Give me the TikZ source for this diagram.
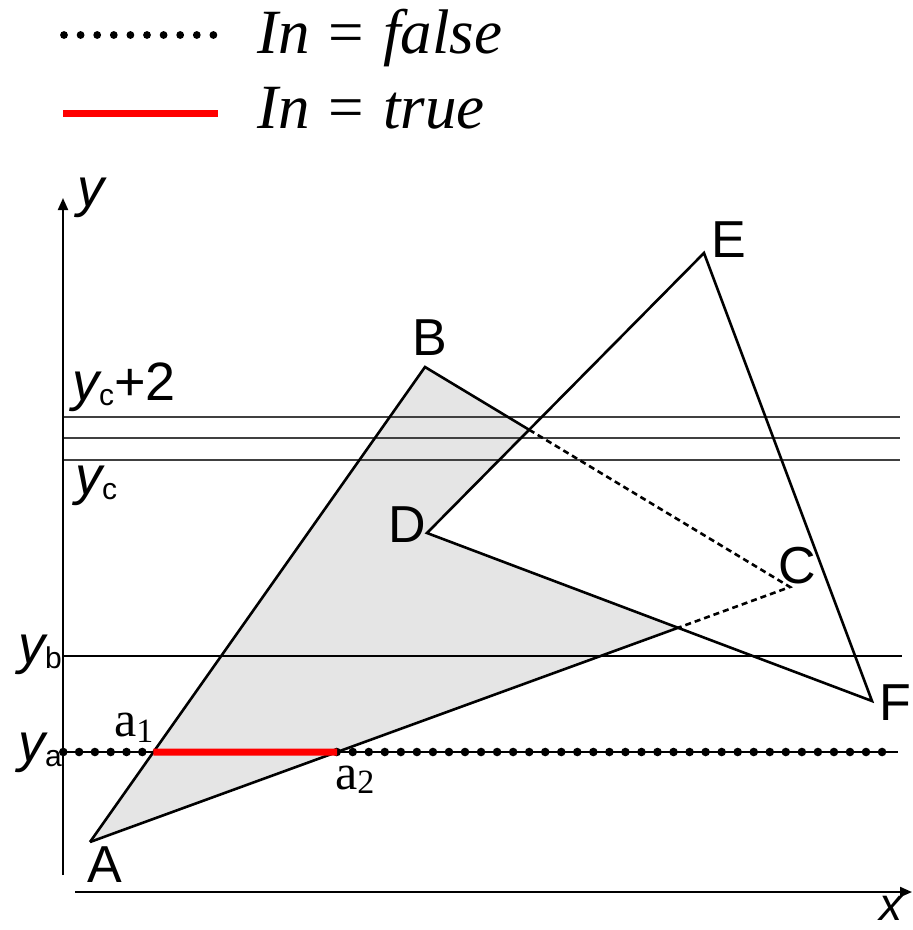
\documentclass[tikz,border=0pt]{standalone}
\usepackage{fontspec}
\setmainfont{Liberation Serif}
\setsansfont{Liberation Sans}
\usetikzlibrary{arrows.meta,intersections}
\begin{document}
\begin{tikzpicture}[x=1pt,y=-1pt,
  edge/.style={line width=2.6pt, line join=miter},
  dashedge/.style={line width=2.6pt, dash pattern=on 6pt off 4pt},
  hline/.style={line width=1.7pt, black!75},
  axisline/.style={line width=2pt, -{Triangle[length=12pt,width=10pt]}},
  lbl/.style={font=\sffamily\fontsize{52}{60}\selectfont, inner sep=0pt, anchor=base},
  ylbl/.style={font=\sffamily\fontsize{54}{60}\selectfont, inner sep=0pt, anchor=base west},
  albl/.style={font=\fontsize{50}{56}\selectfont, inner sep=0pt, anchor=base west},
  legtext/.style={font=\fontsize{63}{70}\selectfont, inner sep=0pt, anchor=base west},
  dotmark/.style={fill=black}
]
\useasboundingbox (0,0) rectangle (913,930);

% points
\coordinate (A) at (90,842);
\coordinate (B) at (425,367);
\coordinate (C) at (790,587);
\coordinate (D) at (427,533);
\coordinate (E) at (704,253);
\coordinate (F) at (872,701);

\path[name path=BC] (B) -- (C);
\path[name path=DE] (D) -- (E);
\path[name path=AC] (A) -- (C);
\path[name path=DF] (D) -- (F);
\path[name path=AB] (A) -- (B);
\path[name intersections={of=BC and DE, by=P1}];
\path[name intersections={of=AC and DF, by=P2}];

% legend
\foreach \i in {0,...,9} \fill[dotmark] (64+16.6*\i,35) circle (3.9pt);
\coordinate (redL) at (63,113);
\coordinate (redR) at (218,113);
\draw[red, line width=7pt] (redL) -- (redR);
\node[legtext] (lf) at (257,53) {\itshape In\/\hspace{0.3em}\upshape=\hspace{0.3em}\itshape false};
\node[legtext] (lt) at (257,128) {\itshape In\/\hspace{0.3em}\upshape=\hspace{0.3em}\itshape true};

% fill
\fill[black!10] (A) -- (B) -- (P1) -- (D) -- (P2) -- cycle;

% horizontal lines
\coordinate (h1L) at (63,417); \coordinate (h1R) at (900,417);
\coordinate (h2L) at (63,438); \coordinate (h2R) at (900,438);
\coordinate (h3L) at (63,460); \coordinate (h3R) at (900,460);
\coordinate (ybL) at (63,656); \coordinate (ybR) at (902,656);
\draw[hline] (h1L) -- (h1R);
\draw[hline] (h2L) -- (h2R);
\draw[hline] (h3L) -- (h3R);
\draw[line width=1.6pt] (ybL) -- (ybR);

% axes
\coordinate (yaxB) at (63,875); \coordinate (yaxT) at (63,198);
\coordinate (xaxL) at (75,892); \coordinate (xaxR) at (912,892);
\draw[axisline] (yaxB) -- (yaxT);
\draw[axisline] (xaxL) -- (xaxR);

% triangles
\draw[edge] (A) -- (B) -- (P1);
\draw[dashedge] (P1) -- (C) -- (P2);
\draw[edge] (P2) -- (A);
\draw[edge] (D) -- (E) -- (F) -- cycle;

% y_a line
\coordinate (yaL) at (63,752); \coordinate (yaR) at (898,752);
\path[name path=YA] (yaL) -- (yaR);
\path[name intersections={of=AB and YA, by=a1}];
\path[name intersections={of=AC and YA, by=a2}];
\draw[line width=2pt] (yaL) -- (yaR);
\foreach \i in {0,...,5} \fill[dotmark] (63.3+15.8*\i,752) circle (4.3pt);
\foreach \i in {0,...,34} \fill[dotmark] (336.7+16.04*\i,752) circle (4.3pt);
\draw[red, line width=7pt] (a1) -- (a2);

% vertex labels
\node[lbl] (lA) at (105,882) {A};
\node[lbl] (lB) at (430,355) {B};
\node[lbl] (lC) at (797,583) {C};
\node[lbl] (lD) at (407,542) {D};
\node[lbl] (lE) at (729,257) {E};
\node[lbl] (lF) at (895,720) {F};

% axis labels
\node[lbl, font=\sffamily\itshape\fontsize{46}{52}\selectfont] (lx) at (891,920) {x};
\node[lbl, font=\sffamily\itshape\fontsize{54}{60}\selectfont] (ly) at (91,206) {y};
\node[ylbl] (lyc2) at (72,400) {\itshape y\upshape\raisebox{-5pt}{\fontsize{30}{30}\selectfont c}+2};
\node[ylbl] (lyc) at (75,494) {\itshape y\upshape\raisebox{-5pt}{\fontsize{30}{30}\selectfont c}};
\node[ylbl] (lyb) at (18,663) {\itshape y\upshape\raisebox{-5pt}{\fontsize{30}{30}\selectfont b}};
\node[ylbl] (lya) at (18,761) {\itshape y\upshape\raisebox{-5pt}{\fontsize{30}{30}\selectfont a}};

% a1, a2
\node[albl] (la1) at (114,736) {a\raisebox{-6pt}{\fontsize{34}{34}\selectfont 1}};
\node[albl] (la2) at (335,789) {a\raisebox{-4pt}{\fontsize{34}{34}\selectfont 2}};
\end{tikzpicture}
\end{document}
